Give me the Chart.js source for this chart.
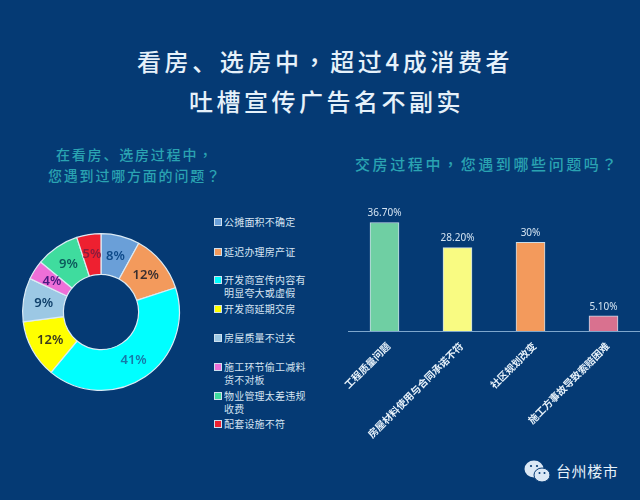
<!DOCTYPE html>
<html>
<head>
<meta charset="utf-8">
<script src="https://cdn.jsdelivr.net/npm/chart.js@4"></script>
<style>
    html, body { margin: 0; padding: 0; }
    body { width: 640px; height: 500px; position: relative; overflow: hidden; background: #053a74; font-family: "Noto Sans CJK SC", sans-serif; }
    .txt { position: absolute; white-space: nowrap; line-height: 1; }
    .title { color: #e6f1fa; font-size: 24px; font-weight: 500; letter-spacing: 3.5px; }
    .sub { color: #2aa3b2; font-size: 14px; font-weight: 500; letter-spacing: 1.8px; }
    .legend { color: #d5e4f2; font-size: 10px; letter-spacing: .2px; }
    .swatch { position: absolute; width: 6px; height: 6px; border: 1px solid #cfe0ee; }
    .mid { font-family: "Noto Sans CJK TC", sans-serif; }
    canvas { position: absolute; }
    svg { position: absolute; }
</style>
</head>
<body>
<div class="txt title" style="left:137px;top:49px;letter-spacing:3.6px">看房、选房中<span class="mid">，</span>超过4成消费者</div>
<div class="txt title" style="left:189px;top:89px">吐槽宣传广告名不副实</div>
<div class="txt sub" style="left:56px;top:147px">在看房、选房过程中<span class="mid">，</span></div>
<div class="txt sub" style="left:48px;top:168px">您遇到过哪方面的问题<span class="mid">？</span></div>
<div class="txt sub" style="left:355px;top:156px;font-size:15px;letter-spacing:2.6px">交房过程中<span class="mid">，</span>您遇到哪些问题吗<span class="mid">？</span></div>

<canvas id="pieChart" style="left:11px;top:222px" width="180" height="180"></canvas>
<canvas id="barChart" style="left:328px;top:198px" width="312" height="252"></canvas>
<div id="legend"></div>

<svg style="left:523px;top:459px" width="30" height="26" viewBox="0 0 30 26">
    <ellipse cx="11" cy="10" rx="9.5" ry="8.5" fill="#dbe8f5"/>
    <ellipse cx="19" cy="16" rx="8" ry="7" fill="#dbe8f5" stroke="#053a74" stroke-width="1"/>
    <circle cx="8" cy="7" r="1.1" fill="#053a74"/><circle cx="14" cy="7" r="1.1" fill="#053a74"/>
    <circle cx="16.5" cy="14" r="1" fill="#053a74"/><circle cx="21.5" cy="14" r="1" fill="#053a74"/>
</svg>
<div class="txt" style="left:556px;top:463px;color:#e6f1fa;font-size:15px;letter-spacing:.6px">台州楼市</div>

<script>
// left doughnut
const pieCategories = ['公摊面积不确定', '延迟办理房产证', '开发商宣传内容有\n明显夸大或虚假', '开发商延期交房', '房屋质量不过关', '施工环节偷工减料\n货不对板', '物业管理太差违规\n收费', '配套设施不符'];
const pieValues = [8, 12, 41, 12, 9, 4, 9, 5];
const pieColors = ['#6a9fd8', '#f39a5c', '#00ffff', '#ffff00', '#9cc8e4', '#ee6fd8', '#3fdc9e', '#ee2030'];
const pieLabelColors = ['#0e4a8a', '#3a3030', '#1679a8', '#3a3a20', '#10406a', '#4a1a80', '#0c5a5c', '#8a1c3c'];
const legendTops = [217, 247, 275, 304, 333, 362, 391, 419];

// right bars
const barCategories = ['工程质量问题', '房屋材料使用与合同承诺不符', '社区规划改变', '施工方事故导致索赔困难'];
const barValues = [36.7, 28.2, 30, 5.1];
const barLabels = ['36.70%', '28.20%', '30%', '5.10%'];
const barColors = ['#6fcfa3', '#f9fb82', '#f39a5c', '#d9718f'];

const legendBox = document.getElementById('legend');
pieCategories.forEach((name, i) => {
    const sw = document.createElement('div');
    sw.className = 'swatch';
    sw.style.left = '214px';
    sw.style.top = (legendTops[i] + 1) + 'px';
    sw.style.background = pieColors[i];
    legendBox.appendChild(sw);
    name.split('\n').forEach((line, j) => {
        const d = document.createElement('div');
        d.className = 'txt legend';
        d.style.left = '224px';
        d.style.top = (legendTops[i] + j * 12.5) + 'px';
        d.textContent = line;
        legendBox.appendChild(d);
    });
});

// value text on the marks
const valueText = {
    id: 'valueText',
    afterDatasetsDraw(chart, args, opts) {
        const ctx = chart.ctx;
        ctx.save();
        ctx.font = opts.font;
        ctx.textAlign = 'center';
        chart.getDatasetMeta(0).data.forEach((el, i) => {
            if (chart.config.type === 'doughnut') {
                const p = el.tooltipPosition();
                ctx.textBaseline = 'middle';
                ctx.fillStyle = pieLabelColors[i];
                ctx.fillText(pieValues[i] + '%', p.x, p.y);
            } else {
                ctx.textBaseline = 'bottom';
                ctx.fillStyle = '#d5e4f2';
                ctx.fillText(barLabels[i], el.x, el.y - 4);
            }
        });
        ctx.restore();
    }
};

new Chart(document.getElementById('pieChart').getContext('2d'), {
    type: 'doughnut',
    data: {
        labels: pieCategories,
        datasets: [{
            data: pieValues,
            backgroundColor: pieColors,
            borderColor: '#dcebf5',
            borderWidth: 1.2
        }]
    },
    options: {
        responsive: false,
        animation: false,
        cutout: '48%',
        layout: { padding: 11 },
        plugins: {
            legend: { display: false },
            tooltip: { enabled: false },
            valueText: { font: '600 13px "Noto Sans", sans-serif' }
        }
    },
    plugins: [valueText]
});

new Chart(document.getElementById('barChart').getContext('2d'), {
    type: 'bar',
    data: {
        labels: barCategories,
        datasets: [{
            data: barValues,
            backgroundColor: barColors,
            borderColor: '#c8dcea',
            borderWidth: { top: 1, left: 1, right: 1, bottom: 0 },
            barThickness: 29
        }]
    },
    options: {
        responsive: false,
        animation: false,
        layout: { autoPadding: false, padding: { left: 20, right: 0, top: 0, bottom: 0 } },
        scales: {
            y: { display: false, min: 0, max: 45 },
            x: {
                afterFit(scale) { scale.height = 119; },
                grid: { display: false },
                border: { color: '#7ea6cc', width: 1 },
                ticks: {
                    color: '#e6f1fa',
                    font: { family: '"Noto Sans CJK SC"', size: 10, weight: '700' },
                    minRotation: 45,
                    maxRotation: 45,
                    autoSkip: false,
                    labelOffset: 4,
                    padding: 1
                }
            }
        },
        plugins: {
            legend: { display: false },
            tooltip: { enabled: false },
            valueText: { font: '10px "Noto Sans", sans-serif' }
        }
    },
    plugins: [valueText]
});
</script>
</body>
</html>
